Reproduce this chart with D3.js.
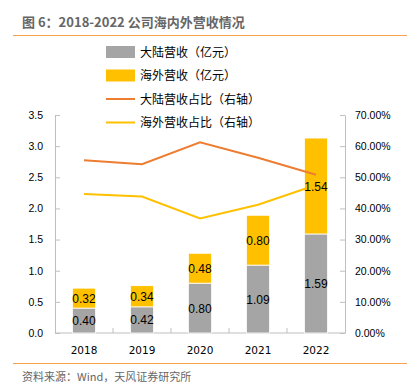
<!DOCTYPE html>
<html>
<head>
<meta charset="utf-8">
<script src="https://cdn.jsdelivr.net/npm/d3@7"></script>
<style>
  body { margin: 0; background: #fff; }
  svg { font-family: "DejaVu Sans", "Noto Sans CJK SC", sans-serif; }
  .cjk { font-family: "Noto Sans CJK SC", sans-serif; }
</style>
</head>
<body>
<svg id="chart"></svg>
<script>
// data
var years = ["2018", "2019", "2020", "2021", "2022"];
var mainland = [0.40, 0.42, 0.80, 1.09, 1.59];
var overseas = [0.32, 0.34, 0.48, 0.80, 1.54];
var mainlandShare = [55.5, 54.2, 61.2, 56.3, 50.8];
var overseasShare = [44.6, 43.8, 36.8, 41.2, 47.5];
var leftTicks = [0, 0.5, 1.0, 1.5, 2.0, 2.5, 3.0, 3.5];
var rightTicks = [0, 10, 20, 30, 40, 50, 60, 70];

var W = 410, H = 385;
var margin = {left: 55, right: 65, top: 115, bottom: 52};
var gray = "#A5A5A5", yellow = "#FFC000", orange = "#ED7D31", axisColor = "#BFBFBF";

var svg = d3.select("#chart").attr("width", W).attr("height", H);

// title + rules
svg.append("text").attr("class", "cjk")
  .attr("x", 22).attr("y", 27)
  .style("font-size", "13px").style("font-weight", "bold").style("fill", "#666")
  .text("图 6：2018-2022 公司海内外营收情况");
svg.append("line").attr("x1", 13).attr("x2", 407).attr("y1", 35.5).attr("y2", 35.5)
  .style("stroke", "#F7A14A").style("stroke-width", 1.2);
svg.append("line").attr("x1", 13).attr("x2", 407).attr("y1", 363.5).attr("y2", 363.5)
  .style("stroke", "#F7A14A").style("stroke-width", 1.2);
svg.append("text").attr("class", "cjk")
  .attr("x", 22).attr("y", 381)
  .style("font-size", "11px").style("fill", "#666")
  .text("资料来源：Wind，天风证券研究所");

var x0 = margin.left, x1 = W - margin.right, yTop = margin.top, yBot = 333;

var x = d3.scaleBand().domain(years).range([x0, x1]).paddingInner(0.6).paddingOuter(0.3);
var band = d3.scaleBand().domain(years).range([x0, x1]);
var yL = d3.scaleLinear().domain([0, 3.5]).range([yBot, yTop]);
var yR = d3.scaleLinear().domain([0, 70]).range([yBot, yTop]);

// axes
var gl = svg.append("g").attr("transform", "translate(" + x0 + ",0)")
  .call(d3.axisLeft(yL).tickValues(leftTicks).tickSizeInner(-5).tickSizeOuter(0).tickPadding(12)
    .tickFormat(d3.format(".1f")));
var gr = svg.append("g").attr("transform", "translate(" + x1 + ",0)")
  .call(d3.axisRight(yR).tickValues(rightTicks).tickSizeInner(-5).tickSizeOuter(0).tickPadding(10)
    .tickFormat(function(d){ return d.toFixed(2) + "%"; }));
[gl, gr].forEach(function(g){
  g.select(".domain").style("stroke", axisColor);
  g.selectAll(".tick line").style("stroke", axisColor);
  g.selectAll(".tick text").style("font-size", "10.5px").style("fill", "#000");
});

// bottom axis
var gb = svg.append("g").attr("transform", "translate(0," + yBot + ")");
gb.append("line").attr("x1", x0).attr("x2", x1).style("stroke", axisColor);
gb.selectAll(".bt").data(years.slice(1)).enter().append("line")
  .attr("x1", function(d){ return band(d); }).attr("x2", function(d){ return band(d); })
  .attr("y1", 0).attr("y2", -5).style("stroke", axisColor);
gb.selectAll(".yl").data(years).enter().append("text")
  .attr("x", function(d){ return band(d) + band.bandwidth()/2; })
  .attr("y", 21).attr("text-anchor", "middle")
  .style("font-size", "10.5px").style("fill", "#000")
  .text(function(d){ return d; });

// bars
var rows = years.map(function(y, i){ return {year: y, m: mainland[i], o: overseas[i]}; });
var bars = svg.append("g");
bars.selectAll(".m").data(rows).enter().append("rect")
  .attr("x", function(d){ return x(d.year); }).attr("width", x.bandwidth())
  .attr("y", function(d){ return yL(d.m); })
  .attr("height", function(d){ return yBot - yL(d.m); })
  .style("fill", gray).style("stroke", "#fff").style("stroke-width", 0.8);
bars.selectAll(".o").data(rows).enter().append("rect")
  .attr("x", function(d){ return x(d.year); }).attr("width", x.bandwidth())
  .attr("y", function(d){ return yL(d.m + d.o); })
  .attr("height", function(d){ return yL(d.m) - yL(d.m + d.o); })
  .style("fill", yellow).style("stroke", "#fff").style("stroke-width", 0.8);

// lines
var line = function(arr){
  return d3.line()
    .x(function(d, i){ return band(years[i]) + band.bandwidth()/2; })
    .y(function(d){ return yR(d); })(arr);
};
svg.append("path").attr("d", line(overseasShare))
  .style("fill", "none").style("stroke", yellow).style("stroke-width", 2);
svg.append("path").attr("d", line(mainlandShare))
  .style("fill", "none").style("stroke", orange).style("stroke-width", 2);

// value labels
var lab = svg.append("g").style("font-family", "'Liberation Sans', sans-serif")
  .style("font-size", "12px").style("fill", "#000").attr("text-anchor", "middle");
lab.selectAll(".lm").data(rows).enter().append("text")
  .attr("x", function(d){ return x(d.year) + x.bandwidth()/2; })
  .attr("y", function(d){ return (yL(d.m) + yBot)/2 + 4.5; })
  .text(function(d){ return d.m.toFixed(2); });
lab.selectAll(".lo").data(rows).enter().append("text")
  .attr("x", function(d){ return x(d.year) + x.bandwidth()/2; })
  .attr("y", function(d){ return (yL(d.m) + yL(d.m + d.o))/2 + 4.5; })
  .text(function(d){ return d.o.toFixed(2); });

// legend
var legend = [
  {name: "大陆营收（亿元）", type: "rect", color: gray},
  {name: "海外营收（亿元）", type: "rect", color: yellow},
  {name: "大陆营收占比（右轴）", type: "line", color: orange},
  {name: "海外营收占比（右轴）", type: "line", color: yellow}
];
var lg = svg.append("g").selectAll("g").data(legend).enter().append("g")
  .attr("transform", function(d, i){ return "translate(106," + (52 + i * 23.5) + ")"; });
lg.filter(function(d){ return d.type == "rect"; }).append("rect")
  .attr("x", 0).attr("y", -6).attr("width", 29).attr("height", 12)
  .style("fill", function(d){ return d.color; });
lg.filter(function(d){ return d.type == "line"; }).append("line")
  .attr("x1", 0).attr("x2", 29).attr("y1", 0).attr("y2", 0)
  .style("stroke", function(d){ return d.color; }).style("stroke-width", 2);
lg.append("text").attr("class", "cjk")
  .attr("x", 34).attr("y", 4.5)
  .style("font-size", "12px").style("fill", "#000")
  .text(function(d){ return d.name; });
</script>
</body>
</html>
